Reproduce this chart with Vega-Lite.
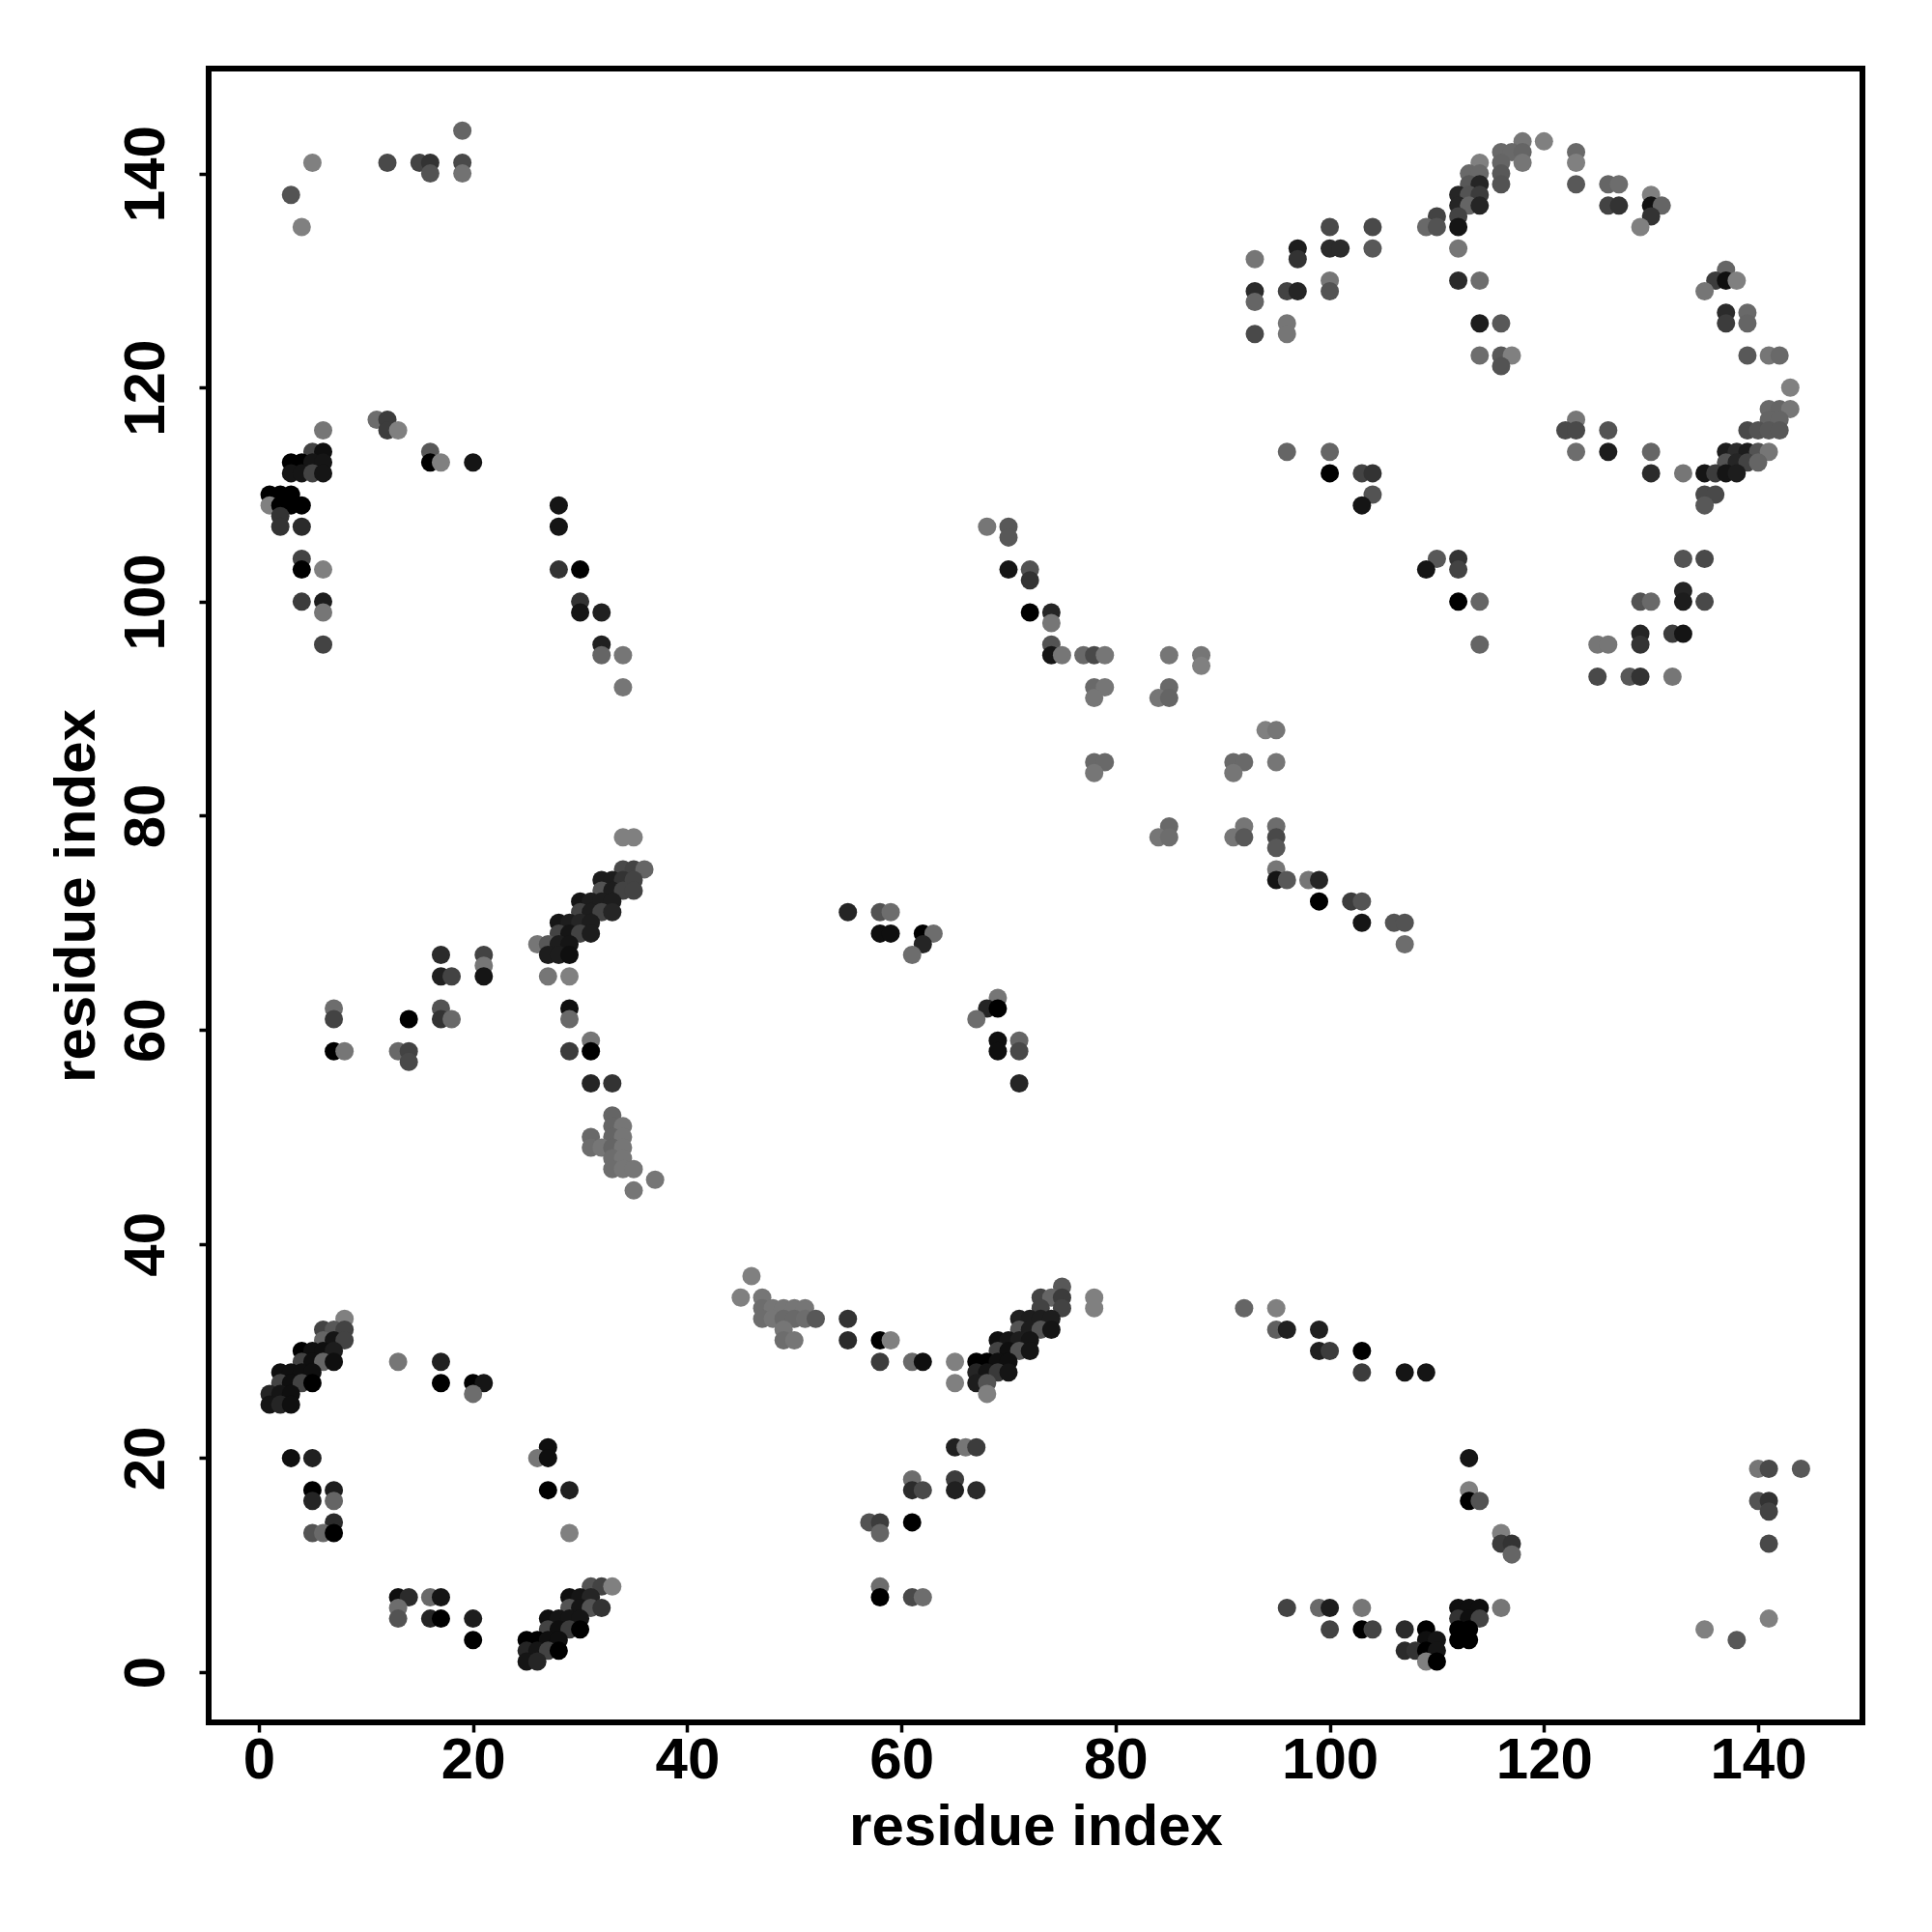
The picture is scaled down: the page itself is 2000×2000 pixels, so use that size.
{"$schema":"https://vega.github.io/schema/vega-lite/v6.json","width":1712,"height":1712,"autosize":{"type":"none"},"padding":{"left":216,"top":71,"right":72,"bottom":217},"background":"white","config":{"view":{"stroke":"#000000","strokeWidth":6,"fill":"white"}},
"data":{"values":[
{"x":3,"y":138,"s":0.66},{"x":5,"y":141,"s":1},{"x":4,"y":135,"s":1},{"x":12,"y":141,"s":0.58},{"x":15,"y":141,"s":0.53},{"x":16,"y":141,"s":0.4},{"x":16,"y":140,"s":0.66},{"x":19,"y":144,"s":0.8},{"x":19,"y":141,"s":0.58},{"x":19,"y":140,"s":0.9},
{"x":6,"y":116,"s":0.93},{"x":11,"y":117,"s":0.86},{"x":12,"y":117,"s":0.47},{"x":12,"y":116,"s":0.47},{"x":13,"y":116,"s":1},{"x":5,"y":114,"s":0.53},{"x":6,"y":114,"s":0.08},{"x":16,"y":114,"s":0.7},{"x":3,"y":113,"s":0},{"x":4,"y":113,"s":0},{"x":5,"y":113,"s":0.13},{"x":6,"y":113,"s":0.13},{"x":16,"y":113,"s":0},{"x":17,"y":113,"s":1},{"x":20,"y":113,"s":0.13},{"x":3,"y":112,"s":0.13},{"x":4,"y":112,"s":0.13},{"x":5,"y":112,"s":0.53},{"x":6,"y":112,"s":0.13},
{"x":1,"y":110,"s":0},{"x":2,"y":110,"s":0},{"x":3,"y":110,"s":0},{"x":1,"y":109,"s":1},{"x":2,"y":109,"s":0},{"x":3,"y":109,"s":0},{"x":4,"y":109,"s":0},{"x":2,"y":108,"s":0.4},{"x":2,"y":107,"s":0.4},{"x":4,"y":107,"s":0.33},{"x":4,"y":104,"s":0.53},{"x":4,"y":103,"s":0},{"x":6,"y":103,"s":1},{"x":4,"y":100,"s":0.47},{"x":6,"y":100,"s":0.2},{"x":6,"y":99,"s":0.93},{"x":6,"y":96,"s":0.53},
{"x":28,"y":109,"s":0.13},{"x":28,"y":107,"s":0.13},{"x":28,"y":103,"s":0.4},{"x":30,"y":103,"s":0},{"x":30,"y":100,"s":0.4},{"x":30,"y":99,"s":0.13},{"x":32,"y":99,"s":0.23},{"x":32,"y":96,"s":0.23},{"x":32,"y":95,"s":0.8},{"x":34,"y":95,"s":0.93},{"x":34,"y":92,"s":0.93},
{"x":34,"y":78,"s":1},{"x":35,"y":78,"s":1},{"x":34,"y":75,"s":0.58},{"x":35,"y":75,"s":0.53},{"x":36,"y":75,"s":0.8},{"x":32,"y":74,"s":0.2},{"x":33,"y":74,"s":0.2},{"x":34,"y":74,"s":0.4},{"x":35,"y":74,"s":0.53},{"x":32,"y":73,"s":0.66},{"x":33,"y":73,"s":0.2},{"x":34,"y":73,"s":0.53},{"x":35,"y":73,"s":0.53},{"x":30,"y":72,"s":0.13},{"x":31,"y":72,"s":0.2},{"x":32,"y":72,"s":0.2},{"x":33,"y":72,"s":0.2},{"x":30,"y":71,"s":0.53},{"x":31,"y":71,"s":0.2},{"x":32,"y":71,"s":0.53},{"x":33,"y":71,"s":0.27},{"x":28,"y":70,"s":0.13},{"x":29,"y":70,"s":0.2},{"x":30,"y":70,"s":0.27},{"x":31,"y":70,"s":0.2},{"x":28,"y":69,"s":0.53},{"x":29,"y":69,"s":0.13},{"x":30,"y":69,"s":0.53},{"x":31,"y":69,"s":0.2},{"x":26,"y":68,"s":0.93},{"x":27,"y":68,"s":0.7},{"x":28,"y":68,"s":0.2},{"x":29,"y":68,"s":0.13},{"x":27,"y":67,"s":0.2},{"x":28,"y":67,"s":0.2},{"x":29,"y":67,"s":0.08},
{"x":17,"y":67,"s":0.33},{"x":21,"y":67,"s":0.53},{"x":21,"y":66,"s":0.93},{"x":17,"y":65,"s":0.23},{"x":18,"y":65,"s":0.53},{"x":21,"y":65,"s":0.13},{"x":27,"y":65,"s":0.93},{"x":29,"y":65,"s":1},{"x":7,"y":62,"s":0.86},{"x":17,"y":62,"s":0.66},{"x":29,"y":62,"s":0.08},{"x":7,"y":61,"s":0.53},{"x":14,"y":61,"s":0},{"x":17,"y":61,"s":0.4},{"x":18,"y":61,"s":0.83},{"x":29,"y":61,"s":0.83},{"x":31,"y":59,"s":0.93},{"x":7,"y":58,"s":0},{"x":8,"y":58,"s":0.93},{"x":13,"y":58,"s":0.83},{"x":14,"y":58,"s":0.53},{"x":29,"y":58,"s":0.47},{"x":31,"y":58,"s":0},{"x":14,"y":57,"s":0.58},{"x":31,"y":55,"s":0.27},{"x":33,"y":55,"s":0.4},
{"x":33,"y":52,"s":0.8},{"x":33,"y":51,"s":0.8},{"x":34,"y":51,"s":0.93},{"x":31,"y":50,"s":0.83},{"x":33,"y":50,"s":0.8},{"x":34,"y":50,"s":0.93},{"x":31,"y":49,"s":0.86},{"x":32,"y":49,"s":0.93},{"x":33,"y":49,"s":0.8},{"x":34,"y":49,"s":0.93},{"x":33,"y":48,"s":0.86},{"x":34,"y":48,"s":0.93},{"x":33,"y":47,"s":0.86},{"x":34,"y":47,"s":0.93},{"x":35,"y":47,"s":0.93},{"x":37,"y":46,"s":0.93},{"x":35,"y":45,"s":0.93},
{"x":8,"y":33,"s":1},{"x":6,"y":32,"s":0.53},{"x":7,"y":32,"s":0.7},{"x":8,"y":32,"s":0.53},{"x":6,"y":31,"s":0.8},{"x":7,"y":31,"s":0.13},{"x":8,"y":31,"s":0.53},{"x":4,"y":30,"s":0},{"x":5,"y":30,"s":0.08},{"x":6,"y":30,"s":0.08},{"x":7,"y":30,"s":0.2},{"x":4,"y":29,"s":0.53},{"x":5,"y":29,"s":0.08},{"x":6,"y":29,"s":0.8},{"x":7,"y":29,"s":0.08},{"x":13,"y":29,"s":0.93},{"x":17,"y":29,"s":0.23},{"x":2,"y":28,"s":0.08},{"x":3,"y":28,"s":0.08},{"x":4,"y":28,"s":0.08},{"x":5,"y":28,"s":0.08},{"x":2,"y":27,"s":0.53},{"x":3,"y":27,"s":0.08},{"x":4,"y":27,"s":0.53},{"x":5,"y":27,"s":0},{"x":17,"y":27,"s":0},{"x":20,"y":27,"s":0},{"x":21,"y":27,"s":0.13},{"x":1,"y":26,"s":0.27},{"x":2,"y":26,"s":0.13},{"x":3,"y":26,"s":0.08},{"x":20,"y":26,"s":0.86},{"x":1,"y":25,"s":0.13},{"x":2,"y":25,"s":0.27},{"x":3,"y":25,"s":0.08},
{"x":27,"y":21,"s":0.08},{"x":3,"y":20,"s":0.08},{"x":5,"y":20,"s":0.23},{"x":26,"y":20,"s":0.93},{"x":27,"y":20,"s":0.08},{"x":5,"y":17,"s":0},{"x":7,"y":17,"s":0.2},{"x":27,"y":17,"s":0},{"x":29,"y":17,"s":0.23},{"x":5,"y":16,"s":0.27},{"x":7,"y":16,"s":0.8},{"x":7,"y":14,"s":0.33},{"x":5,"y":13,"s":0.66},{"x":6,"y":13,"s":0.83},{"x":7,"y":13,"s":0},{"x":29,"y":13,"s":1},
{"x":31,"y":8,"s":0.66},{"x":32,"y":8,"s":0.53},{"x":33,"y":8,"s":1},{"x":13,"y":7,"s":0.08},{"x":14,"y":7,"s":0.33},{"x":16,"y":7,"s":0.83},{"x":17,"y":7,"s":0.13},{"x":29,"y":7,"s":0.08},{"x":30,"y":7,"s":0.13},{"x":31,"y":7,"s":0.27},{"x":13,"y":6,"s":0.86},{"x":29,"y":6,"s":0.66},{"x":30,"y":6,"s":0.13},{"x":31,"y":6,"s":0.66},{"x":32,"y":6,"s":0.4},{"x":13,"y":5,"s":0.66},{"x":16,"y":5,"s":0.27},{"x":17,"y":5,"s":0},{"x":20,"y":5,"s":0.2},{"x":27,"y":5,"s":0.08},{"x":28,"y":5,"s":0.13},{"x":29,"y":5,"s":0.13},{"x":30,"y":5,"s":0.13},{"x":27,"y":4,"s":0.53},{"x":28,"y":4,"s":0.08},{"x":29,"y":4,"s":0.47},{"x":30,"y":4,"s":0},{"x":20,"y":3,"s":0},{"x":25,"y":3,"s":0},{"x":26,"y":3,"s":0},{"x":27,"y":3,"s":0.08},{"x":28,"y":3,"s":0.08},{"x":25,"y":2,"s":0.27},{"x":26,"y":2,"s":0.13},{"x":27,"y":2,"s":0.53},{"x":28,"y":2,"s":0},{"x":25,"y":1,"s":0.13},{"x":26,"y":1,"s":0.27},
{"x":46,"y":37,"s":1},{"x":45,"y":35,"s":1},{"x":47,"y":35,"s":0.93},{"x":75,"y":36,"s":0.7},{"x":73,"y":35,"s":0.53},{"x":74,"y":35,"s":0.8},{"x":75,"y":35,"s":0.47},{"x":78,"y":35,"s":1},{"x":47,"y":34,"s":0.86},{"x":48,"y":34,"s":0.93},{"x":49,"y":34,"s":0.93},{"x":50,"y":34,"s":0.93},{"x":51,"y":34,"s":0.93},{"x":73,"y":34,"s":0.53},{"x":75,"y":34,"s":0.53},{"x":78,"y":34,"s":1},{"x":47,"y":33,"s":0.86},{"x":48,"y":33,"s":0.93},{"x":49,"y":33,"s":0.83},{"x":50,"y":33,"s":0.83},{"x":51,"y":33,"s":0.86},{"x":52,"y":33,"s":0.7},{"x":55,"y":33,"s":0.4},{"x":71,"y":33,"s":0.23},{"x":72,"y":33,"s":0.2},{"x":73,"y":33,"s":0.2},{"x":74,"y":33,"s":0.2},{"x":49,"y":32,"s":0.93},{"x":71,"y":32,"s":0.66},{"x":72,"y":32,"s":0.2},{"x":73,"y":32,"s":0.66},{"x":74,"y":32,"s":0.13},{"x":49,"y":31,"s":0.86},{"x":50,"y":31,"s":0.93},{"x":55,"y":31,"s":0.33},{"x":58,"y":31,"s":0},{"x":59,"y":31,"s":1},{"x":69,"y":31,"s":0.08},{"x":70,"y":31,"s":0.13},{"x":71,"y":31,"s":0.2},{"x":72,"y":31,"s":0.13},{"x":69,"y":30,"s":0.53},{"x":70,"y":30,"s":0.08},{"x":71,"y":30,"s":0.66},{"x":72,"y":30,"s":0.13},{"x":58,"y":29,"s":0.47},{"x":61,"y":29,"s":0.83},{"x":62,"y":29,"s":0.08},{"x":65,"y":29,"s":1},{"x":67,"y":29,"s":0},{"x":68,"y":29,"s":0},{"x":69,"y":29,"s":0.08},{"x":70,"y":29,"s":0.08},{"x":67,"y":28,"s":0.27},{"x":68,"y":28,"s":0.13},{"x":69,"y":28,"s":0.45},{"x":70,"y":28,"s":0.13},{"x":65,"y":27,"s":1},{"x":67,"y":27,"s":0.2},{"x":68,"y":27,"s":0.66},{"x":68,"y":26,"s":1},
{"x":65,"y":21,"s":0.23},{"x":66,"y":21,"s":0.93},{"x":67,"y":21,"s":0.47},{"x":61,"y":18,"s":0.86},{"x":65,"y":18,"s":0.47},{"x":61,"y":17,"s":0.33},{"x":62,"y":17,"s":0.58},{"x":65,"y":17,"s":0.23},{"x":67,"y":17,"s":0.33},{"x":57,"y":14,"s":0.66},{"x":58,"y":14,"s":0.47},{"x":61,"y":14,"s":0},{"x":58,"y":13,"s":0.8},{"x":58,"y":8,"s":0.86},{"x":58,"y":7,"s":0},{"x":61,"y":7,"s":0.58},{"x":62,"y":7,"s":0.86},
{"x":92,"y":34,"s":0.8},{"x":95,"y":34,"s":1},{"x":95,"y":32,"s":0.75},{"x":96,"y":32,"s":0.23},{"x":99,"y":32,"s":0.23},{"x":99,"y":30,"s":0.23},{"x":100,"y":30,"s":0.47},{"x":103,"y":30,"s":0},{"x":103,"y":28,"s":0.47},{"x":107,"y":28,"s":0.13},{"x":109,"y":28,"s":0.13},{"x":113,"y":20,"s":0.13},{"x":113,"y":17,"s":1},{"x":113,"y":16,"s":0},{"x":114,"y":16,"s":0.66},{"x":116,"y":13,"s":1},{"x":116,"y":12,"s":0.47},{"x":117,"y":12,"s":0.4},{"x":117,"y":11,"s":0.8},
{"x":140,"y":19,"s":0.93},{"x":141,"y":19,"s":0.58},{"x":144,"y":19,"s":0.7},{"x":140,"y":16,"s":0.66},{"x":141,"y":16,"s":0.4},{"x":141,"y":15,"s":0.53},{"x":141,"y":12,"s":0.58},
{"x":96,"y":6,"s":0.53},{"x":99,"y":6,"s":0.83},{"x":100,"y":6,"s":0.2},{"x":103,"y":6,"s":0.93},{"x":112,"y":6,"s":0.08},{"x":113,"y":6,"s":0.08},{"x":114,"y":6,"s":0.08},{"x":116,"y":6,"s":0.93},{"x":112,"y":5,"s":0.4},{"x":113,"y":5,"s":0.08},{"x":114,"y":5,"s":0.53},{"x":100,"y":4,"s":0.53},{"x":103,"y":4,"s":0},{"x":104,"y":4,"s":0.53},{"x":107,"y":4,"s":0.33},{"x":109,"y":4,"s":0},{"x":112,"y":4,"s":0},{"x":113,"y":4,"s":0},{"x":109,"y":3,"s":0.08},{"x":110,"y":3,"s":0.13},{"x":112,"y":3,"s":0},{"x":113,"y":3,"s":0},{"x":107,"y":2,"s":0.33},{"x":108,"y":2,"s":0.4},{"x":109,"y":2,"s":0},{"x":110,"y":2,"s":0.13},{"x":109,"y":1,"s":1},{"x":110,"y":1,"s":0},{"x":135,"y":4,"s":1},{"x":138,"y":3,"s":0.7},{"x":141,"y":5,"s":1},
{"x":118,"y":143,"s":0.93},{"x":120,"y":143,"s":1},{"x":116,"y":142,"s":0.83},{"x":117,"y":142,"s":0.83},{"x":118,"y":142,"s":0.8},{"x":123,"y":142,"s":0.83},{"x":114,"y":141,"s":1},{"x":116,"y":141,"s":0.8},{"x":118,"y":141,"s":0.93},{"x":123,"y":141,"s":1},{"x":113,"y":140,"s":0.83},{"x":114,"y":140,"s":0.83},{"x":116,"y":140,"s":0.7},{"x":113,"y":139,"s":0.7},{"x":114,"y":139,"s":0.27},{"x":116,"y":139,"s":0.66},{"x":123,"y":139,"s":0.7},{"x":126,"y":139,"s":0.8},{"x":127,"y":139,"s":0.86},{"x":112,"y":138,"s":0.27},{"x":113,"y":138,"s":0.66},{"x":114,"y":138,"s":0.47},{"x":130,"y":138,"s":1},{"x":112,"y":137,"s":0.27},{"x":113,"y":137,"s":0.8},{"x":114,"y":137,"s":0.27},{"x":126,"y":137,"s":0.53},{"x":127,"y":137,"s":0.4},{"x":130,"y":137,"s":0.1},{"x":131,"y":137,"s":0.8},{"x":110,"y":136,"s":0.53},{"x":112,"y":136,"s":0.53},{"x":130,"y":136,"s":0.4},{"x":100,"y":135,"s":0.58},{"x":104,"y":135,"s":0.58},{"x":109,"y":135,"s":0.83},{"x":110,"y":135,"s":0.66},{"x":112,"y":135,"s":0.13},{"x":129,"y":135,"s":1},
{"x":97,"y":133,"s":0.2},{"x":100,"y":133,"s":0.33},{"x":101,"y":133,"s":0.33},{"x":104,"y":133,"s":0.7},{"x":112,"y":133,"s":0.93},{"x":93,"y":132,"s":0.93},{"x":97,"y":132,"s":0.4},{"x":137,"y":131,"s":0.8},{"x":100,"y":130,"s":0.93},{"x":112,"y":130,"s":0.33},{"x":114,"y":130,"s":0.86},{"x":136,"y":130,"s":0.47},{"x":137,"y":130,"s":0.08},{"x":138,"y":130,"s":1},{"x":93,"y":129,"s":0.33},{"x":96,"y":129,"s":0.53},{"x":97,"y":129,"s":0.27},{"x":100,"y":129,"s":0.66},{"x":135,"y":129,"s":0.93},{"x":93,"y":128,"s":0.8},{"x":137,"y":127,"s":0.33},{"x":139,"y":127,"s":0.83},{"x":96,"y":126,"s":0.93},{"x":114,"y":126,"s":0.2},{"x":116,"y":126,"s":0.7},{"x":137,"y":126,"s":0.47},{"x":139,"y":126,"s":0.8},{"x":93,"y":125,"s":0.58},{"x":96,"y":125,"s":0.93},
{"x":114,"y":123,"s":0.86},{"x":116,"y":123,"s":0.7},{"x":117,"y":123,"s":1},{"x":139,"y":123,"s":0.7},{"x":141,"y":123,"s":0.93},{"x":142,"y":123,"s":0.83},{"x":116,"y":122,"s":0.66},{"x":143,"y":120,"s":1},{"x":141,"y":118,"s":0.83},{"x":142,"y":118,"s":0.8},{"x":143,"y":118,"s":0.93},{"x":123,"y":117,"s":0.93},{"x":141,"y":117,"s":0.8},{"x":142,"y":117,"s":0.8},{"x":122,"y":116,"s":0.58},{"x":123,"y":116,"s":0.58},{"x":126,"y":116,"s":0.66},{"x":139,"y":116,"s":0.58},{"x":140,"y":116,"s":0.66},{"x":141,"y":116,"s":0.7},{"x":142,"y":116,"s":0.7},
{"x":96,"y":114,"s":0.8},{"x":100,"y":114,"s":0.8},{"x":123,"y":114,"s":0.86},{"x":126,"y":114,"s":0.2},{"x":130,"y":114,"s":0.8},{"x":137,"y":114,"s":0.2},{"x":138,"y":114,"s":0.33},{"x":139,"y":114,"s":0.2},{"x":140,"y":114,"s":0.66},{"x":141,"y":114,"s":0.93},{"x":137,"y":113,"s":0.66},{"x":138,"y":113,"s":0.27},{"x":139,"y":113,"s":0.53},{"x":140,"y":113,"s":0.8},{"x":100,"y":112,"s":0},{"x":103,"y":112,"s":0.53},{"x":104,"y":112,"s":0.4},{"x":130,"y":112,"s":0.33},{"x":133,"y":112,"s":0.93},{"x":135,"y":112,"s":0.13},{"x":136,"y":112,"s":0.47},{"x":137,"y":112,"s":0.13},{"x":138,"y":112,"s":0.2},{"x":104,"y":110,"s":0.66},{"x":135,"y":110,"s":0.58},{"x":136,"y":110,"s":0.58},{"x":103,"y":109,"s":0.13},{"x":135,"y":109,"s":0.7},
{"x":110,"y":104,"s":0.7},{"x":112,"y":104,"s":0.4},{"x":133,"y":104,"s":0.66},{"x":135,"y":104,"s":0.58},{"x":109,"y":103,"s":0.13},{"x":112,"y":103,"s":0.53},{"x":133,"y":101,"s":0.27},{"x":112,"y":100,"s":0},{"x":114,"y":100,"s":0.8},{"x":129,"y":100,"s":0.66},{"x":130,"y":100,"s":0.83},{"x":133,"y":100,"s":0.2},{"x":135,"y":100,"s":0.58},{"x":129,"y":97,"s":0.27},{"x":132,"y":97,"s":0.47},{"x":133,"y":97,"s":0.13},{"x":114,"y":96,"s":0.8},{"x":125,"y":96,"s":0.93},{"x":126,"y":96,"s":0.93},{"x":129,"y":96,"s":0.4},{"x":125,"y":93,"s":0.58},{"x":128,"y":93,"s":0.7},{"x":129,"y":93,"s":0.4},{"x":132,"y":93,"s":0.93},
{"x":55,"y":71,"s":0.27},{"x":58,"y":71,"s":0.66},{"x":59,"y":71,"s":0.86},{"x":58,"y":69,"s":0.08},{"x":59,"y":69,"s":0.08},{"x":62,"y":69,"s":0},{"x":63,"y":69,"s":0.86},{"x":62,"y":68,"s":0.27},{"x":61,"y":67,"s":0.86},{"x":69,"y":63,"s":0.93},{"x":68,"y":62,"s":0.27},{"x":69,"y":62,"s":0},{"x":67,"y":61,"s":0.86},{"x":69,"y":59,"s":0.08},{"x":69,"y":58,"s":0.08},{"x":71,"y":59,"s":0.8},{"x":71,"y":58,"s":0.58},{"x":71,"y":55,"s":0.27},
{"x":68,"y":107,"s":0.93},{"x":70,"y":107,"s":0.7},{"x":70,"y":106,"s":0.7},{"x":70,"y":103,"s":0.13},{"x":72,"y":103,"s":0.66},{"x":72,"y":102,"s":0.4},{"x":72,"y":99,"s":0},{"x":74,"y":99,"s":0.27},{"x":74,"y":98,"s":0.93},{"x":74,"y":96,"s":0.66},{"x":74,"y":95,"s":0.13},{"x":75,"y":95,"s":0.93},{"x":77,"y":95,"s":0.83},{"x":78,"y":95,"s":0.58},{"x":79,"y":95,"s":0.93},{"x":85,"y":95,"s":0.93},{"x":88,"y":95,"s":0.93},{"x":88,"y":94,"s":1},{"x":78,"y":92,"s":0.83},{"x":79,"y":92,"s":0.93},{"x":78,"y":91,"s":0.93},{"x":85,"y":92,"s":0.83},{"x":84,"y":91,"s":0.93},{"x":85,"y":91,"s":0.8},{"x":94,"y":88,"s":1},{"x":95,"y":88,"s":0.93},{"x":78,"y":85,"s":0.83},{"x":79,"y":85,"s":0.83},{"x":78,"y":84,"s":0.93},{"x":91,"y":85,"s":0.83},{"x":92,"y":85,"s":0.83},{"x":91,"y":84,"s":0.93},{"x":95,"y":85,"s":0.93},{"x":85,"y":79,"s":0.83},{"x":84,"y":78,"s":0.93},{"x":85,"y":78,"s":0.86},{"x":92,"y":79,"s":0.93},{"x":91,"y":78,"s":0.93},{"x":92,"y":78,"s":0.7},{"x":95,"y":79,"s":0.86},{"x":95,"y":78,"s":0.58},{"x":95,"y":77,"s":0.7},{"x":95,"y":75,"s":0.93},{"x":95,"y":74,"s":0.13},{"x":96,"y":74,"s":0.7},{"x":98,"y":74,"s":0.93},{"x":99,"y":74,"s":0.27},{"x":99,"y":72,"s":0},{"x":102,"y":72,"s":0.47},{"x":103,"y":72,"s":0.66},{"x":103,"y":70,"s":0.13},{"x":106,"y":70,"s":0.66},{"x":107,"y":70,"s":0.66},{"x":107,"y":68,"s":0.86}
]},
"mark":{"type":"point","shape":"circle","filled":true,"size":361,"opacity":1,"stroke":null,"clip":true},
"encoding":{
"x":{"field":"x","type":"quantitative","scale":{"domain":[-4.69,149.74],"nice":false,"zero":false},"axis":{"title":"residue index","grid":false,"domain":false,"values":[0,20,40,60,80,100,120,140],"tickColor":"#000000","tickWidth":3.5,"tickSize":10,"labelColor":"#000000","labelFont":"Liberation Sans","labelFontWeight":"bold","labelFontSize":60,"labelPadding":0,"titleFont":"Liberation Sans","titleFontWeight":"bold","titleFontSize":60,"titleColor":"#000000","titlePadding":10}},
"y":{"field":"y","type":"quantitative","scale":{"domain":[-4.69,149.8],"nice":false,"zero":false},"axis":{"title":"residue index","grid":false,"domain":false,"values":[0,20,40,60,80,100,120,140],"tickColor":"#000000","tickWidth":3.5,"tickSize":10,"labelColor":"#000000","labelFont":"Liberation Sans","labelFontWeight":"bold","labelFontSize":60,"labelAngle":-90,"labelAlign":"center","labelBaseline":"alphabetic","labelPadding":37,"titleFont":"Liberation Sans","titleFontWeight":"bold","titleFontSize":60,"titleColor":"#000000","titlePadding":11}},
"color":{"field":"s","type":"quantitative","scale":{"domain":[0,1],"range":["#000000","#808080"]},"legend":null},
"order":[{"field":"x"},{"field":"y"}]
}}
